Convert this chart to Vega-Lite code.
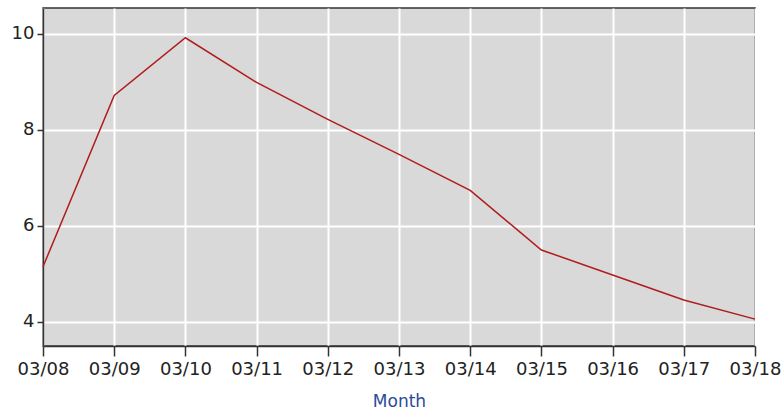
{
  "$schema": "https://vega.github.io/schema/vega-lite/v6.json",
  "width": 712,
  "height": 338,
  "autosize": {"type": "none"},
  "padding": {"left": 43, "top": 8, "right": 29, "bottom": 65},
  "background": "white",
  "config": {
    "view": {"fill": "#d9d9d9", "stroke": "#333333", "strokeWidth": 1.5},
    "axis": {
      "labelFont": "DejaVu Sans",
      "labelFontSize": 18,
      "labelColor": "#222222",
      "titleFont": "DejaVu Sans",
      "gridColor": "#ffffff",
      "gridWidth": 2,
      "gridOpacity": 1,
      "domainColor": "#333333",
      "domainWidth": 1.5,
      "tickColor": "#333333",
      "tickWidth": 1.5
    }
  },
  "data": {
    "values": [
      {"month": "03/08", "value": 5.15},
      {"month": "03/09", "value": 8.72},
      {"month": "03/10", "value": 9.92},
      {"month": "03/11", "value": 8.99},
      {"month": "03/12", "value": 8.22},
      {"month": "03/13", "value": 7.49},
      {"month": "03/14", "value": 6.74},
      {"month": "03/15", "value": 5.5},
      {"month": "03/16", "value": 4.98},
      {"month": "03/17", "value": 4.46},
      {"month": "03/18", "value": 4.06}
    ]
  },
  "mark": {"type": "line", "color": "#b01c1c", "strokeWidth": 1.5},
  "encoding": {
    "x": {
      "field": "month",
      "type": "ordinal",
      "sort": null,
      "scale": {"type": "point", "padding": 0},
      "axis": {
        "title": "Month",
        "titleColor": "#2a4a9a",
        "titleFontSize": 17,
        "titleFontWeight": "normal",
        "titlePadding": 15,
        "labelAngle": 0,
        "labelPadding": 4,
        "tickSize": 10,
        "grid": true
      }
    },
    "y": {
      "field": "value",
      "type": "quantitative",
      "scale": {"domain": [3.5, 10.54], "nice": false, "zero": false},
      "axis": {
        "title": null,
        "values": [4, 6, 8, 10],
        "tickSize": 6,
        "labelPadding": 3
      }
    }
  }
}
